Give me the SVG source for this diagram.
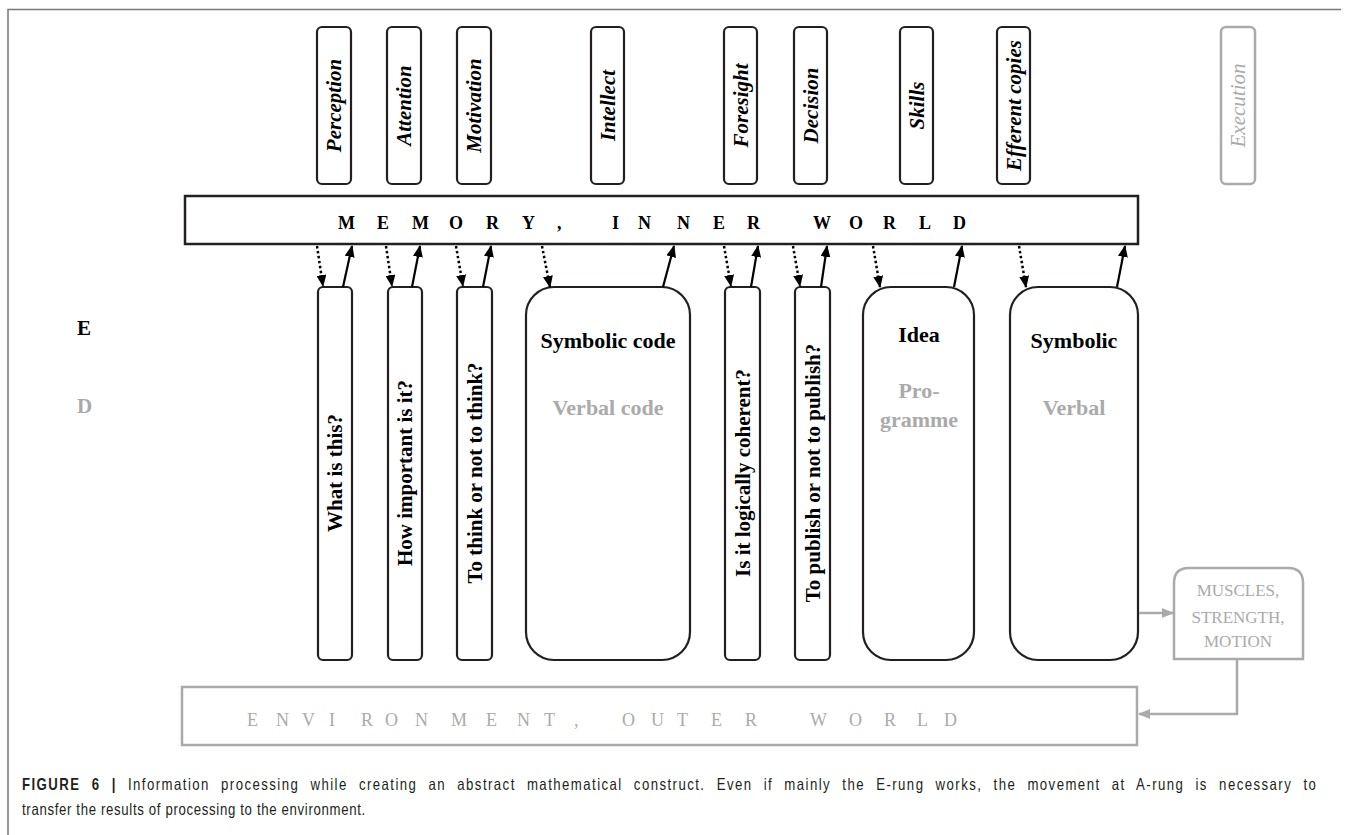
<svg xmlns="http://www.w3.org/2000/svg" width="1349" height="835" viewBox="0 0 1349 835">
  <defs>
    <style>
      .box { fill: #fff; stroke: #231f20; stroke-width: 2.2; }
      .gbox { fill: #fff; stroke: #aaaaaa; stroke-width: 2.5; }
      .lbl { font-family: "Liberation Serif", "Times New Roman", serif; font-weight: bold; font-size: 21px; fill: #000; text-anchor: middle; }
      .big { font-size: 22px; }
      .ital { font-style: italic; }
      .grey { fill: #aaaaaa; }
      .band { font-family: "Liberation Serif", "Times New Roman", serif; font-size: 18px; }
      .mus { font-family: "Liberation Serif", "Times New Roman", serif; font-size: 17px; fill: #aaaaaa; text-anchor: middle; }
      .solid { stroke: #000; stroke-width: 2.2; fill: none; marker-end: url(#ah); }
      .dots { stroke: #000; stroke-width: 2.5; fill: none; stroke-dasharray: 2.5 2.5; marker-end: url(#ah); }
      .gline { stroke: #aaaaaa; stroke-width: 2.5; fill: none; marker-end: url(#ahg); }
      .cap { font-family: "Liberation Sans", Arial, sans-serif; font-size: 16.5px; fill: #231f20; }
    </style>
    <marker id="ah" markerUnits="userSpaceOnUse" markerWidth="12" markerHeight="10" refX="11" refY="5" orient="auto">
      <path d="M0,0 L12,5 L0,10 z" fill="#000"/>
    </marker>
    <marker id="ahg" markerUnits="userSpaceOnUse" markerWidth="12" markerHeight="10" refX="11" refY="5" orient="auto">
      <path d="M0,0 L12,5 L0,10 z" fill="#aaaaaa"/>
    </marker>
  </defs>

  <!-- figure frame -->
  <path d="M8,835 L8,9.5 L1341,9.5" fill="none" stroke="#777" stroke-width="1.5"/>

  <!-- rung labels -->
  <text class="lbl" x="77" y="335" style="text-anchor:start">E</text>
  <text class="lbl grey" x="77" y="413" style="text-anchor:start">D</text>

  <!-- upper function boxes -->
  <g id="perception">
    <rect class="box" x="317" y="27" width="34" height="157" rx="5"/>
    <text class="lbl ital" transform="translate(334,105.5) rotate(-90)" dy="7">Perception</text>
  </g>
  <g id="attention">
    <rect class="box" x="387" y="27" width="34" height="157" rx="5"/>
    <text class="lbl ital" transform="translate(404,105.5) rotate(-90)" dy="7">Attention</text>
  </g>
  <g id="motivation">
    <rect class="box" x="457" y="27" width="34" height="157" rx="5"/>
    <text class="lbl ital" transform="translate(474,105.5) rotate(-90)" dy="7">Motivation</text>
  </g>
  <g id="intellect">
    <rect class="box" x="591" y="27" width="33" height="157" rx="5"/>
    <text class="lbl ital" transform="translate(607.5,105.5) rotate(-90)" dy="7">Intellect</text>
  </g>
  <g id="foresight">
    <rect class="box" x="724" y="27" width="33" height="157" rx="5"/>
    <text class="lbl ital" transform="translate(740.5,105.5) rotate(-90)" dy="7">Foresight</text>
  </g>
  <g id="decision">
    <rect class="box" x="794" y="27" width="33" height="157" rx="5"/>
    <text class="lbl ital" transform="translate(810.5,105.5) rotate(-90)" dy="7">Decision</text>
  </g>
  <g id="skills">
    <rect class="box" x="900" y="27" width="33" height="157" rx="5"/>
    <text class="lbl ital" transform="translate(916.5,105.5) rotate(-90)" dy="7">Skills</text>
  </g>
  <g id="efferent-copies">
    <rect class="box" x="997" y="27" width="33" height="157" rx="5"/>
    <text class="lbl ital" transform="translate(1013.5,105.5) rotate(-90)" dy="7">Efferent copies</text>
  </g>
  <g id="execution">
    <rect class="gbox" x="1221" y="27" width="34" height="157" rx="5"/>
    <text class="lbl ital grey" style="font-weight:normal" transform="translate(1238,105.5) rotate(-90)" dy="7">Execution</text>
  </g>

  <!-- memory band -->
  <g id="memory">
    <rect x="185" y="196" width="953" height="48" fill="#fff" stroke="#231f20" stroke-width="2.5"/>
    <text class="band" font-weight="bold" y="229" x="338 377 412 449 486 522 557 580 612 638 677 713 747 780 813 849 883 919 953">MEMORY, INNER WORLD</text>
  </g>

  <!-- lower processing boxes -->
  <g id="what-is-this">
    <rect class="box" x="318" y="287" width="34" height="373" rx="5"/>
    <text class="lbl" transform="translate(335,473) rotate(-90)" dy="7">What is this?</text>
  </g>
  <g id="how-important">
    <rect class="box" x="388" y="287" width="34" height="373" rx="5"/>
    <text class="lbl" transform="translate(405,473) rotate(-90)" dy="7">How important is it?</text>
  </g>
  <g id="to-think">
    <rect class="box" x="457" y="287" width="35" height="373" rx="5"/>
    <text class="lbl" transform="translate(474.5,473) rotate(-90)" dy="7">To think or not to think?</text>
  </g>
  <g id="symbolic-code">
    <rect class="box" x="526" y="287" width="164" height="373" rx="28"/>
    <text class="lbl big" x="608" y="348">Symbolic code</text>
    <text class="lbl big grey" x="608" y="415">Verbal code</text>
  </g>
  <g id="logically-coherent">
    <rect class="box" x="725" y="287" width="35" height="373" rx="5"/>
    <text class="lbl" transform="translate(742.5,473) rotate(-90)" dy="7">Is it logically coherent?</text>
  </g>
  <g id="to-publish">
    <rect class="box" x="795" y="287" width="35" height="373" rx="5"/>
    <text class="lbl" transform="translate(812.5,473) rotate(-90)" dy="7">To publish or not to publish?</text>
  </g>
  <g id="idea">
    <rect class="box" x="863" y="287" width="111" height="373" rx="28"/>
    <text class="lbl big" x="919" y="342">Idea</text>
    <text class="lbl big grey" x="919" y="398">Pro-</text>
    <text class="lbl big grey" x="919" y="427">gramme</text>
  </g>
  <g id="symbolic">
    <rect class="box" x="1010" y="287" width="128" height="373" rx="28"/>
    <text class="lbl big" x="1074" y="348">Symbolic</text>
    <text class="lbl big grey" x="1074" y="415">Verbal</text>
  </g>

  <!-- motor output -->
  <g id="muscles">
    <path class="gbox" d="M1174,659 L1174,583 Q1174,568 1189,568 L1288,568 Q1303,568 1303,583 L1303,659 Z"/>
    <text class="mus" x="1238" y="596">MUSCLES,</text>
    <text class="mus" x="1238" y="623">STRENGTH,</text>
    <text class="mus" x="1238" y="647">MOTION</text>
  </g>

  <!-- environment band -->
  <g id="environment">
    <rect class="gbox" x="182" y="687" width="955" height="58"/>
    <text class="band grey" y="726" x="247 276 302 329 361 385 415 451 486 517 544 574 600 622 651 677 711 745 780 810 849 884 917 944">ENVIRONMENT, OUTER WORLD</text>
  </g>

  <!-- connectors -->
  <g id="connectors">
    <line class="dots" x1="317" y1="246" x2="323" y2="286"/>
    <line class="solid" x1="343" y1="287" x2="352" y2="246"/>
    <line class="dots" x1="386" y1="246" x2="392" y2="286"/>
    <line class="solid" x1="412" y1="287" x2="420" y2="246"/>
    <line class="dots" x1="456" y1="246" x2="463" y2="286"/>
    <line class="solid" x1="483" y1="287" x2="491" y2="246"/>
    <line class="dots" x1="542" y1="246" x2="550" y2="287"/>
    <line class="solid" x1="663" y1="287" x2="674" y2="246"/>
    <line class="dots" x1="724" y1="246" x2="731" y2="286"/>
    <line class="solid" x1="751" y1="287" x2="758" y2="246"/>
    <line class="dots" x1="793" y1="246" x2="800" y2="286"/>
    <line class="solid" x1="821" y1="287" x2="827" y2="246"/>
    <line class="dots" x1="873" y1="246" x2="880" y2="287"/>
    <line class="solid" x1="954" y1="287" x2="962" y2="246"/>
    <line class="dots" x1="1019" y1="246" x2="1026" y2="287"/>
    <line class="solid" x1="1117" y1="287" x2="1125" y2="246"/>
    <line class="gline" x1="1139" y1="613" x2="1173" y2="613"/>
    <polyline class="gline" points="1237,660 1237,714 1139,714"/>
  </g>

  <!-- caption: condensed sans, first line justified -->
  <text class="cap" transform="translate(22,790) scale(0.8,1)" word-spacing="7.6" letter-spacing="1.8"><tspan font-weight="bold">FIGURE 6 |</tspan> Information processing while creating an abstract mathematical construct. Even if mainly the E-rung works, the movement at A-rung is necessary to</text>
  <text class="cap" transform="translate(22,815) scale(0.8,1)" textLength="429" lengthAdjust="spacing">transfer the results of processing to the environment.</text>
</svg>
